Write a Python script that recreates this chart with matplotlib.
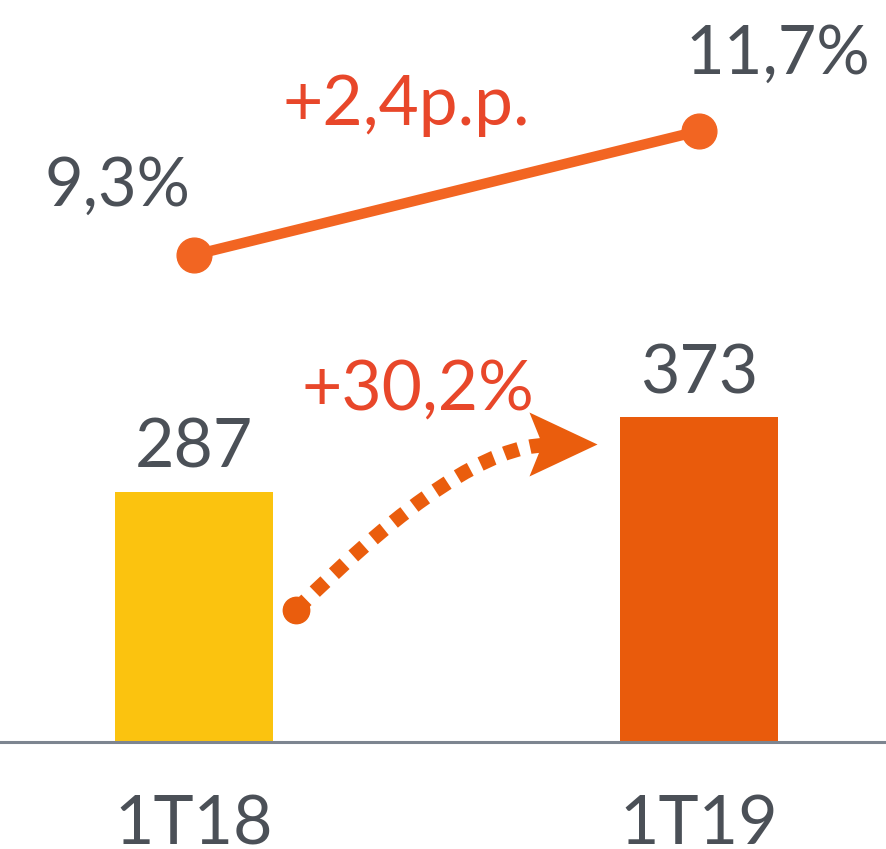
import matplotlib
matplotlib.use("Agg")
import matplotlib.pyplot as plt
from matplotlib.path import Path
from matplotlib.patches import PathPatch

plt.rcParams['font.family'] = ['Lato', 'DejaVu Sans']

# data
periods = ['1T18', '1T19']
volumes = [287, 373]
ratios = [9.3, 11.7]
ratio_labels = ['9,3%', '11,7%']
growth_label = '+30,2%'
ratio_change_label = '+2,4p.p.'

grey = '#4b5057'
red_txt = '#e8472a'
line_col = '#f26522'
bar_cols = ['#fbc30f', '#e95b0c']

fig = plt.figure(figsize=(8.86, 8.49), dpi=100)
ax = fig.add_axes([0, 0, 1, 1])
ax.set_xlim(-0.384, 1.370)
ax.set_ylim(-122.8, 851.9)
ax.axis('off')

x = list(range(len(periods)))
ax.bar(x, volumes, width=0.313, color=bar_cols, zorder=2)
ax.axhline(0, color='#7d8590', lw=2.2, zorder=3)

for xi, v in zip(x, volumes):
    ax.annotate(str(v), (xi, v), xytext=(0, 31), textcoords='offset points',
                ha='center', va='center', fontsize=49, color=grey)
for xi, p in zip(x, periods):
    ax.text(xi, -60, p, ha='center', va='top', fontsize=49, color=grey)

# ratio line on its own scale
ax2 = fig.add_axes([0, 0, 1, 1], sharex=ax)
ax2.set_ylim(-2.196, 14.235)
ax2.axis('off')
ax2.plot(x, ratios, color=line_col, lw=7.5, marker='o', markersize=25,
         solid_capstyle='round', zorder=4)
offsets = [(-55, 49), (57, 55)]
for xi, r, lab, off in zip(x, ratios, ratio_labels, offsets):
    ax2.annotate(lab, (xi, r), xytext=off, textcoords='offset points',
                 ha='center', va='center', fontsize=48, color=grey)
ax2.text(0.42, 11.82, ratio_change_label, ha='center', va='baseline',
         fontsize=50, color=red_txt)

# growth arrow (axes fraction coords)
def fr(px, py):
    return (px / 886, 1 - py / 849)

arrow_col = '#ea5d0d'
start = fr(296, 610)
ctrl = fr(462, 445)
end = fr(548, 445)
curve = PathPatch(Path([start, ctrl, end], [Path.MOVETO, Path.CURVE3, Path.CURVE3]),
                  transform=ax.transAxes, fill=False, edgecolor=arrow_col,
                  lw=10.5, linestyle=(0, (1, 0.8)), capstyle='butt', zorder=5)
ax.add_patch(curve)
ax.plot(*start, 'o', color=arrow_col, markersize=19, transform=ax.transAxes, zorder=5)
head = Path([(-1, 0.94), (1, 0), (-1, -0.94), (-0.62, 0), (-1, 0.94)],
            [Path.MOVETO, Path.LINETO, Path.LINETO, Path.LINETO, Path.CLOSEPOLY])
ax.plot(*fr(563, 444), marker=head, markersize=49, color=arrow_col,
        markeredgewidth=0, transform=ax.transAxes, zorder=5)
ax.text(*fr(418, 390), growth_label, ha='center', va='center', fontsize=50,
        color=red_txt, transform=ax.transAxes, zorder=6)

fig.savefig('out.png', dpi=100, facecolor='white')
